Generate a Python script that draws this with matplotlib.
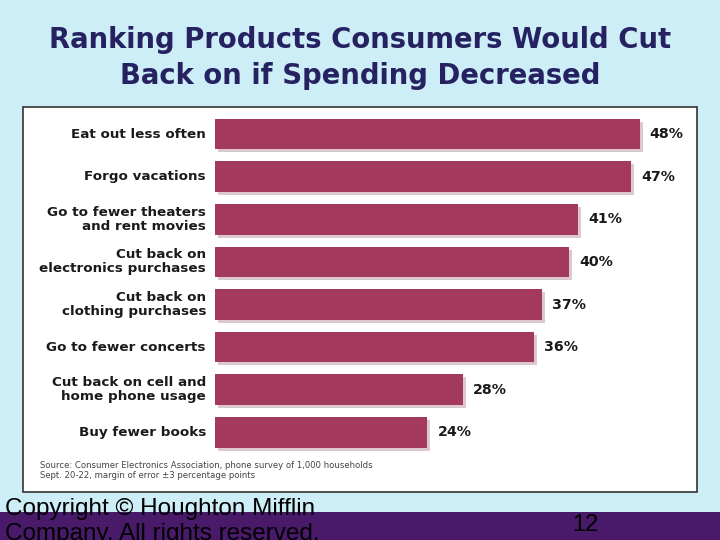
import matplotlib.pyplot as plt
from matplotlib.patches import Rectangle

categories = ['Eat out less often', 'Forgo vacations', 'Go to fewer theaters\nand rent movies',
              'Cut back on\nelectronics purchases', 'Cut back on\nclothing purchases',
              'Go to fewer concerts', 'Cut back on cell and\nhome phone usage', 'Buy fewer books']
values = [48, 47, 41, 40, 37, 36, 28, 24]
value_labels = ['48%', '47%', '41%', '40%', '37%', '36%', '28%', '24%']

W, H = 720, 540
fig = plt.figure(figsize=(7.2, 5.4), dpi=100)
fig.patch.set_facecolor('#cdeef7')

# white panel
fig.add_artist(Rectangle((23 / W, 1 - 492 / H), (697 - 23) / W, (492 - 107) / H,
                         transform=fig.transFigure, facecolor='white', edgecolor='#333333',
                         lw=1.2, zorder=-5))
# purple footer band
fig.add_artist(Rectangle((0, 0), 1, 28 / H, transform=fig.transFigure,
                         facecolor='#4a1a6a', edgecolor='none', zorder=-5))

fig.text(0.5, 1 - 58 / H, 'Ranking Products Consumers Would Cut\nBack on if Spending Decreased',
         ha='center', va='center', fontsize=19.8, fontweight='bold', color='#262262',
         linespacing=1.4)

px = 8.85  # pixels per percent
ax = fig.add_axes([215 / W, 1 - 453.7 / H, (697 - 215) / W, 341 / H])
ax.set_xlim(0, (697 - 215) / px)
ax.set_ylim(7.5, -0.5)
ax.axis('off')

ys = list(range(len(values)))
ax.barh([y + 0.07 for y in ys], values, left=3 / px, height=0.72, color='#dcc8d0', zorder=1)
ax.barh(ys, values, height=0.72, color='#a33a5e', zorder=2)

for y, v, lab, cat in zip(ys, values, value_labels, categories):
    ax.text(v + 10 / px, y, lab, ha='left', va='center', fontsize=10.2,
            fontweight='bold', color='#1a1a1a')
    ax.text(-9 / px, y, cat, ha='right', va='center', fontsize=9.7,
            fontweight='bold', color='#1a1a1a', linespacing=1.1)

fig.text(40 / W, 1 - 470.5 / H,
         'Source: Consumer Electronics Association, phone survey of 1,000 households\n'
         'Sept. 20-22, margin of error \u00b13 percentage points',
         ha='left', va='center', fontsize=6.1, color='#444444', linespacing=1.2)

fig.text(5 / W, 1 - 498 / H, 'Copyright \u00a9 Houghton Mifflin\nCompany. All rights reserved.',
         ha='left', va='top', fontsize=17.5, color='black', linespacing=1.15,
         family='Liberation Sans')
fig.text(585 / W, 1 - 525 / H, '12', ha='center', va='center', fontsize=17,
         color='black', family='Liberation Sans')

fig.savefig('out.png', dpi=100, facecolor=fig.get_facecolor())
